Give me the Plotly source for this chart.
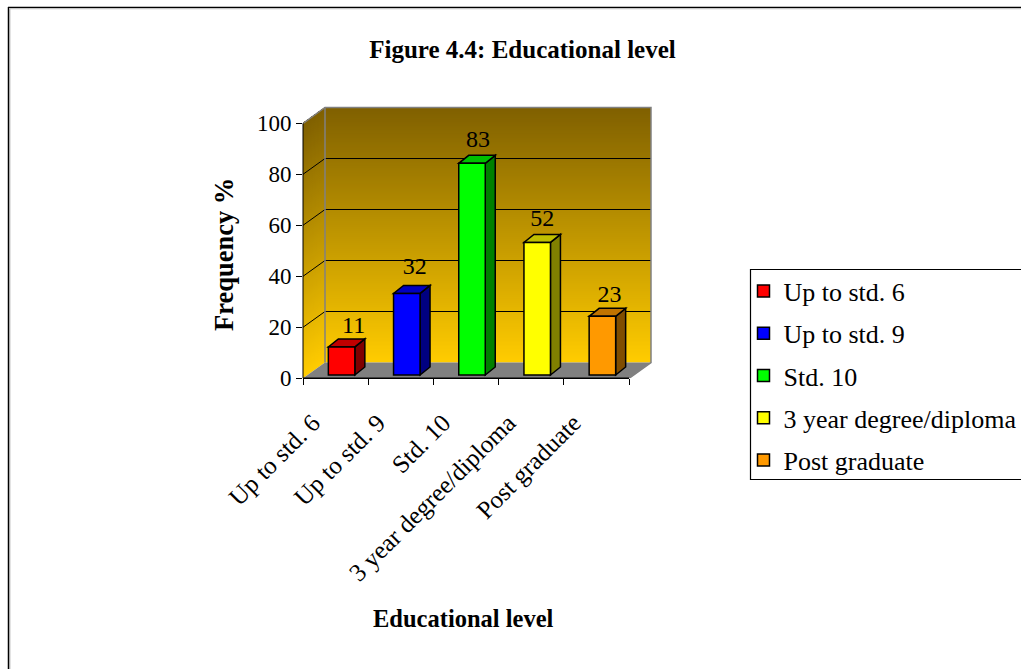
import plotly.graph_objects as go

categories = ["Up to std. 6", "Up to std. 9", "Std. 10", "3 year degree/diploma", "Post graduate"]
values = [11, 32, 83, 52, 23]
y_ticks = [0, 20, 40, 60, 80, 100]

face_colors = ["#ff0000", "#0000ff", "#00ff00", "#ffff00", "#ff9900"]
side_colors = ["#800000", "#000080", "#008000", "#808000", "#804d00"]
top_colors = ["#c00000", "#0000c0", "#00c000", "#c0c000", "#c07300"]
label_nudge_x = [7, 3, 1, 0, 2]
label_nudge_y = [0, 5, 2, 2, 0]

W, H = 1021, 669
FONT = "Liberation Serif"
# plot geometry in pixels
PX0, PX_TICK_END, PY0, PY100 = 303.0, 629.0, 378.3, 123.3
DEPTH_PX, DEPTH_PY = 22.0, 15.8
XU = (PX_TICK_END - PX0) / len(categories)
YU = (PY0 - PY100) / 100
DX, DY = DEPTH_PX / XU, DEPTH_PY / YU     # wall depth in data units
PAD = 2.0
x_range = [-0.5, len(categories) - 0.5 + DX + PAD / XU]
y_range = [0, 100 + DY + PAD / YU]
dom_x = [PX0 / W, (PX_TICK_END + DEPTH_PX + PAD) / W]
dom_y = [1 - PY0 / H, 1 - (PY100 - DEPTH_PY - PAD) / H]
X_L, X_R = -0.5, len(categories) - 0.5

BAR_W, BAR_DX, BAR_BASE = 26.5 / XU, 6.0 / XU, 1.3
BAR_SX, BAR_SY = 10.0 / XU, 8.0 / YU


def poly(pts):
    return "M" + " L".join(f"{a},{b}" for a, b in pts) + " Z"


def shade(t):
    # t=0 at floor, t=1 at top of wall
    r = 255 + (128 - 255) * t
    g = 204 + (96 - 204) * t
    return f"rgb({r:.0f},{g:.0f},0)"


shapes = []
# gradient bands on back and left walls: each band reaches to the top and is painted over by the next
N = 128
for i in range(N):
    a = 100 * i / N
    col = shade((i + 0.5) / N)
    shapes.append(dict(type="path", xref="x", yref="y", layer="below", fillcolor=col, line=dict(width=0),
                       path=poly([(X_L + DX, a + DY), (X_R + DX, a + DY), (X_R + DX, 100 + DY), (X_L + DX, 100 + DY)])))
    shapes.append(dict(type="path", xref="x", yref="y", layer="below", fillcolor=col, line=dict(width=0),
                       path=poly([(X_L, a), (X_L + DX, a + DY), (X_L + DX, 100 + DY), (X_L, 100)])))
# floor
shapes.append(dict(type="path", xref="x", yref="y", layer="below", fillcolor="#808080", line=dict(width=0),
                   path=poly([(X_L, 0), (X_R, 0), (X_R + DX, DY), (X_L + DX, DY)])))
# gridlines
for t in y_ticks[1:-1]:
    shapes.append(dict(type="path", xref="x", yref="y", layer="below", line=dict(color="black", width=1),
                       path=f"M{X_L},{t} L{X_L + DX},{t + DY} L{X_R + DX},{t + DY}"))
# wall edges
shapes.append(dict(type="path", xref="x", yref="y", layer="below", line=dict(color="#808080", width=1.5),
                   path=f"M{X_L},100 L{X_L + DX},{100 + DY} L{X_R + DX},{100 + DY} L{X_R + DX},{DY} L{X_R},0"))
shapes.append(dict(type="line", xref="x", yref="y", layer="below", line=dict(color="#808080", width=1.5),
                   x0=X_L + DX, x1=X_L + DX, y0=DY, y1=100 + DY))
# bar sides and tops
for i, v in enumerate(values):
    l = i + BAR_DX - BAR_W / 2
    r = i + BAR_DX + BAR_W / 2
    t = BAR_BASE + v
    shapes.append(dict(type="path", xref="x", yref="y", layer="below", fillcolor=side_colors[i],
                       line=dict(color="black", width=1.5),
                       path=poly([(r, BAR_BASE), (r + BAR_SX, BAR_BASE + BAR_SY), (r + BAR_SX, t + BAR_SY), (r, t)])))
    shapes.append(dict(type="path", xref="x", yref="y", layer="below", fillcolor=top_colors[i],
                       line=dict(color="black", width=1.5),
                       path=poly([(l, t), (r, t), (r + BAR_SX, t + BAR_SY), (l + BAR_SX, t + BAR_SY)])))
# axis lines
shapes.append(dict(type="line", xref="paper", yref="y", x0=PX0 / W, x1=PX0 / W, y0=0, y1=100,
                   line=dict(color="black", width=1)))
shapes.append(dict(type="line", xref="x", yref="paper", x0=X_L, x1=X_R, y0=1 - PY0 / H, y1=1 - PY0 / H,
                   line=dict(color="black", width=1.5)))
# outer frame
shapes.append(dict(type="line", xref="paper", yref="paper", x0=8.5 / W, x1=8.5 / W, y0=0, y1=1 - 7 / H,
                   line=dict(color="black", width=1.5)))
shapes.append(dict(type="line", xref="paper", yref="paper", x0=8 / W, x1=1, y0=1 - 7.5 / H, y1=1 - 7.5 / H,
                   line=dict(color="black", width=1.5)))
shapes.append(dict(type="line", xref="paper", yref="paper", x0=9.8 / W, x1=9.8 / W, y0=0, y1=1 - 8 / H,
                   line=dict(color="#a0a0a0", width=1)))
shapes.append(dict(type="line", xref="paper", yref="paper", x0=9 / W, x1=1, y0=1 - 8.8 / H, y1=1 - 8.8 / H,
                   line=dict(color="#c8c8c8", width=1)))
# legend frame (open on the right, running off the page)
LEG_L, LEG_T, LEG_B = 750.5, 269.5, 479.5
shapes.append(dict(type="path", xref="paper", yref="paper", line=dict(color="black", width=1.2),
                   path=f"M1,{1 - LEG_T / H} L{LEG_L / W},{1 - LEG_T / H} L{LEG_L / W},{1 - LEG_B / H} L1,{1 - LEG_B / H}"))

fig = go.Figure()
for i, (c, v) in enumerate(zip(categories, values)):
    fig.add_trace(go.Bar(x=[i + BAR_DX], y=[v], base=[BAR_BASE], width=[BAR_W], name=c,
                         legendgroup=c,
                         marker=dict(color=face_colors[i], line=dict(color="black", width=1.5))))
fig.add_trace(go.Scatter(x=[i + BAR_DX + BAR_SX / 2 + label_nudge_x[i] / XU for i in range(len(values))],
                         y=[v + BAR_BASE + BAR_SY + label_nudge_y[i] / YU for i, v in enumerate(values)],
                         mode="text", text=[str(v) for v in values], textposition="top center",
                         textfont=dict(family=FONT, size=24, color="black"),
                         cliponaxis=False, showlegend=False, hoverinfo="skip"))
# invisible carrier for the boundary tick marks on the x axis
fig.add_trace(go.Scatter(x=[X_L, X_R], y=[0, 0], xaxis="x2", mode="lines", line=dict(width=0),
                         showlegend=False, hoverinfo="skip"))

annotations = [
    dict(text="<b>Educational level</b>", xref="paper", yref="paper", x=463 / W, y=1 - 618.5 / H,
         xanchor="center", yanchor="middle",
         showarrow=False, font=dict(family=FONT, size=24.5, color="black")),
    dict(text="<b>Frequency %</b>", xref="paper", yref="paper", x=224 / W, y=1 - 255 / H, textangle=-90,
         xanchor="center", yanchor="middle",
         showarrow=False, font=dict(family=FONT, size=26.5, color="black")),
]

fig.update_layout(
    width=W, height=H, margin=dict(l=0, r=0, t=0, b=0, pad=0, autoexpand=False),
    paper_bgcolor="white", plot_bgcolor="rgba(0,0,0,0)",
    barmode="overlay", shapes=shapes, annotations=annotations,
    title=dict(text="<b>Figure 4.4: Educational level</b>", x=522.5 / W, xanchor="center", xref="paper",
               y=1 - 49 / H, yanchor="middle", yref="paper",
               font=dict(family=FONT, size=25, color="black")),
    xaxis=dict(domain=dom_x, range=x_range, tickmode="array",
               tickvals=[i - 0.35 for i in range(len(categories))],
               ticktext=categories, tickangle=-45, ticks="", showgrid=False, zeroline=False, showline=False,
               ticklabelstandoff=24,
               tickfont=dict(family=FONT, size=25, color="black"), anchor="y", fixedrange=True),
    xaxis2=dict(domain=dom_x, range=x_range, overlaying="x", side="bottom", anchor="y", tickmode="array",
                tickvals=[i - 0.5 for i in range(len(categories) + 1)], ticks="outside", ticklen=6, tickwidth=1,
                tickcolor="black", showticklabels=False, showgrid=False, zeroline=False, showline=False),
    yaxis=dict(domain=dom_y, range=y_range, tickmode="array", tickvals=y_ticks, ticks="outside", ticklen=6,
               tickwidth=1, tickcolor="black", showgrid=False, zeroline=False, showline=False,
               tickfont=dict(family=FONT, size=23, color="black"), anchor="x"),
    legend=dict(x=743.5 / W, xanchor="left", y=1 - 267.5 / H, yanchor="top", bgcolor="rgba(0,0,0,0)",
                borderwidth=0, tracegroupgap=5.5, traceorder="grouped",
                font=dict(family=FONT, size=26, color="black"), itemclick=False, itemdoubleclick=False),
    showlegend=True,
)

fig.write_html("out.html", config=dict(displayModeBar=False),
               post_script="document.body.style.margin='0';document.body.style.overflow='hidden';")
